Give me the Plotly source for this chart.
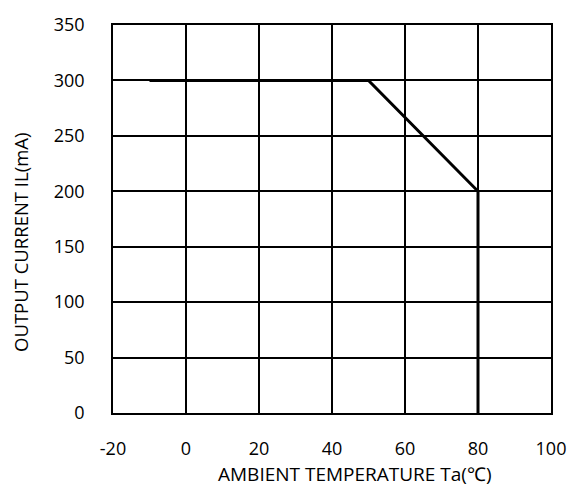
import plotly.graph_objects as go

temps = [-10, 50, 80, 80]
currents = [300, 300, 200, 0]
x_ticks = [-20, 0, 20, 40, 60, 80, 100]
y_ticks = [0, 50, 100, 150, 200, 250, 300, 350]
x_title = "AMBIENT TEMPERATURE Ta(℃)"
y_title = "OUTPUT CURRENT IL(mA)"

FONT = "Open Sans"
W, H = 570, 486
L, R, T, B = 113, 19, 25, 73
PW, PH = W - L - R, H - T - B

fig = go.Figure()
fig.add_trace(go.Scatter(x=temps, y=currents, mode="lines",
                         line=dict(color="black", width=3), showlegend=False))

fig.update_layout(
    width=W, height=H,
    margin=dict(l=L, r=R, t=T, b=B),
    paper_bgcolor="white", plot_bgcolor="white",
    font=dict(family=FONT, size=18, color="black"),
)
fig.update_xaxes(range=[-20, 100], tickvals=x_ticks, ticktext=[str(v) for v in x_ticks],
                 showgrid=True, gridcolor="black", gridwidth=1.5,
                 showline=True, linecolor="black", linewidth=1.5, mirror=True,
                 zeroline=False, ticks="", ticklabelstandoff=19, automargin=False,
                 tickfont=dict(size=18))
fig.update_yaxes(range=[0, 350], tickvals=y_ticks, ticktext=[str(v) for v in y_ticks],
                 showgrid=True, gridcolor="black", gridwidth=1.5,
                 showline=True, linecolor="black", linewidth=1.5, mirror=True,
                 zeroline=False, ticks="", ticklabelstandoff=23, automargin=False,
                 tickfont=dict(size=18))

# title centres measured in window pixels
fig.add_annotation(text=x_title, xref="paper", yref="paper",
                   x=(355 - L) / PW, y=(H - B - 474) / PH,
                   xanchor="center", yanchor="middle", showarrow=False,
                   borderpad=0, font=dict(size=19))
fig.add_annotation(text=y_title, xref="paper", yref="paper",
                   x=(20 - L) / PW, y=(H - B - 243) / PH, textangle=-90,
                   xanchor="center", yanchor="middle", showarrow=False,
                   borderpad=0, font=dict(size=18.5))

fig.write_html("out.html", config={"displayModeBar": False},
               post_script="document.body.style.margin='0';document.body.style.overflow='hidden';")
